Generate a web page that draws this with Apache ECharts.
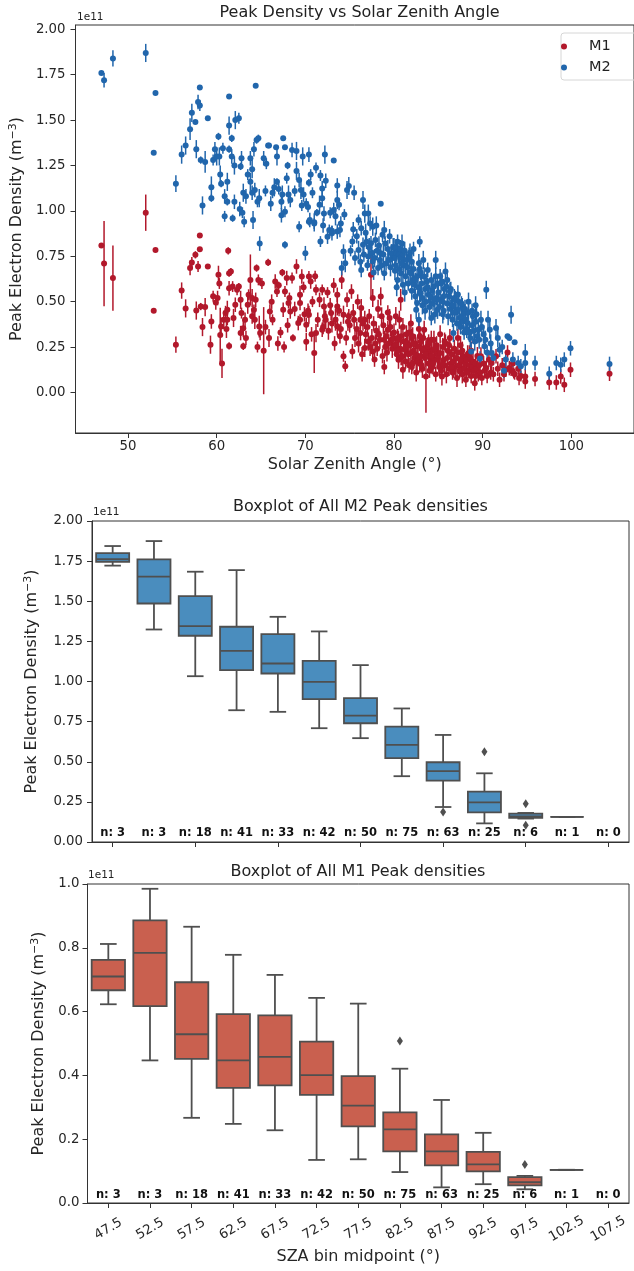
<!DOCTYPE html>
<html>
<head>
<meta charset="utf-8">
<script src="https://cdn.jsdelivr.net/npm/echarts@6/dist/echarts.min.js"></script>
<style>
  html, body { margin: 0; padding: 0; background: #fff; }
  #chart { width: 634px; height: 1271px; }
</style>
</head>
<body>
<div id="chart"></div>
<script>
// [SZA (deg), peak density (1e11 m^-3), error (1e11 m^-3)]
const m2Points = [
  [47.0,1.76,0.01],[47.3,1.72,0.04],[48.3,1.84,0.045],
  [52.0,1.87,0.05],[53.1,1.65,0.01],[52.9,1.32,0.01],
  [55.4,1.15,0.046],[56.05,1.31,0.05],[56.5,1.36,0.05],[57.0,1.45,0.06],[57.2,1.54,0.05],[57.6,1.49,0.01],
  [57.9,1.60,0.04],[58.1,1.58,0.03],[58.1,1.68,0.01],[57.7,1.34,0.05],[58.2,1.28,0.02],[58.7,1.27,0.06],
  [58.4,1.03,0.05],[59.0,1.51,0.01],[59.4,1.13,0.06],[59.4,1.07,0.02],[59.6,1.28,0.03],[59.8,1.34,0.04],
  [60.0,1.30,0.05],[60.2,1.41,0.02],[60.3,1.30,0.05],[60.4,1.20,0.05],[60.5,1.15,0.02],[60.7,1.345,0.03],
  [60.9,1.08,0.04],[60.9,0.97,0.03],[61.2,1.16,0.05],[61.2,1.05,0.02],[61.4,1.63,0.01],[61.4,1.47,0.05],
  [61.4,1.34,0.02],[61.7,1.40,0.02],[61.7,1.30,0.04],[61.8,0.96,0.02],[62.0,1.25,0.05],[62.0,1.05,0.04],
  [62.1,1.50,0.05],[62.5,1.51,0.03],[62.6,1.01,0.04],[62.7,1.245,0.02],[62.8,1.29,0.04],[62.9,0.99,0.03],
  [63.0,1.10,0.05],[63.1,0.94,0.03],[63.3,1.08,0.04],[63.5,1.20,0.03],[63.8,1.29,0.04],[63.8,1.16,0.05],
  [64.0,1.23,0.05],[64.0,1.10,0.04],[64.1,0.95,0.05],[64.3,1.115,0.04],[64.4,1.69,0.01],[64.5,1.39,0.02],
  [64.6,1.05,0.03],[64.7,1.40,0.02],[64.8,1.07,0.05],[64.85,0.82,0.04],[64.2,1.34,0.04],
  [65.3,1.29,0.04],[65.5,1.11,0.03],[65.8,1.36,0.01],[65.9,1.36,0.01],[66.1,1.04,0.04],[66.7,1.35,0.01],
  [66.8,1.30,0.05],[66.8,1.16,0.02],[67.3,1.05,0.04],[67.3,0.976,0.04],[67.4,1.09,0.05],[67.5,1.40,0.01],
  [67.7,1.35,0.01],[67.7,0.995,0.03],[67.7,0.813,0.02],[68.0,1.25,0.02],[68.1,1.09,0.05],[68.5,1.335,0.04],
  [69.0,1.33,0.05],[69.3,1.17,0.04],[69.3,0.913,0.03],[69.5,1.115,0.05],[69.7,1.30,0.05],[69.8,1.09,0.04],
  [66.3,1.10,0.03],[65.6,1.26,0.03],[66.5,1.13,0.05],[67.0,1.12,0.03],[68.3,1.06,0.04],[68.8,1.11,0.03],
  [69.0,1.22,0.05],[67.9,1.18,0.03],[69.6,1.03,0.03],
  [70.0,0.767,0.04],[70.1,1.04,0.03],[70.3,1.022,0.03],[70.4,1.31,0.04],[70.4,1.155,0.02],[70.4,0.94,0.02],
  [70.5,0.95,0.04],[71.0,0.937,0.05],[71.0,0.93,0.03],[71.2,1.237,0.03],[71.6,1.034,0.05],[71.7,1.195,0.03],
  [71.7,0.831,0.03],[71.9,1.124,0.04],[71.9,1.07,0.05],[72.1,0.985,0.04],[72.2,1.31,0.05],[72.3,1.166,0.04],
  [72.5,0.858,0.04],[72.7,0.895,0.03],[73.0,0.877,0.04],[73.0,0.89,0.03],[73.2,1.277,0.01],[73.2,1.005,0.04],
  [73.4,0.97,0.05],[73.6,1.14,0.04],[73.6,1.06,0.05],[73.6,0.886,0.04],[73.8,1.034,0.03],[73.9,0.895,0.04],
  [74.1,0.685,0.04],[74.3,0.776,0.04],[74.5,0.712,0.05],[74.7,1.115,0.05],[74.9,1.137,0.05],[70.8,1.10,0.03],
  [72.8,0.99,0.03],[71.3,0.99,0.02],[74.0,0.93,0.04],[72.0,0.92,0.04],[74.4,0.98,0.03],[70.6,1.20,0.03],
  [75.3,0.831,0.03],[75.4,0.899,0.04],[76.0,0.785,0.05],[76.3,0.904,0.04],[76.3,0.675,0.04],[76.5,1.06,0.05],
  [76.5,0.813,0.04],[76.7,0.985,0.05],[77.1,0.985,0.05],[77.1,0.749,0.05],[77.4,0.822,0.04],[77.6,0.913,0.05],
  [77.6,0.721,0.04],[78.2,0.685,0.04],[78.5,1.04,0.01],[78.5,0.767,0.05],[78.7,0.868,0.04],[78.9,0.895,0.05],
  [78.9,0.657,0.04],[79.4,0.73,0.05],[79.7,0.767,0.05],[75.1,0.78,0.03],[75.6,0.74,0.04],[75.8,0.86,0.04],
  [76.0,0.95,0.03],[76.2,0.72,0.04],[76.6,0.76,0.04],[76.8,0.88,0.05],[77.0,0.70,0.03],[77.2,0.80,0.05],
  [77.3,0.93,0.04],[77.5,0.77,0.04],[77.8,0.74,0.05],[77.9,0.84,0.04],[78.0,0.92,0.05],[78.1,0.78,0.04],
  [78.3,0.81,0.05],[78.4,0.73,0.04],[78.6,0.70,0.04],[78.8,0.76,0.05],[79.0,0.82,0.04],[79.1,0.71,0.04],
  [79.3,0.79,0.05],[79.5,0.86,0.04],[79.6,0.69,0.05],[79.8,0.74,0.04],[79.9,0.80,0.05],[75.5,1.10,0.04],
  [77.7,0.66,0.04],[76.9,0.83,0.04],
  [80.0,0.80,0.05],[80.1,0.74,0.05],[80.2,0.794,0.05],[80.2,0.70,0.04],[80.3,0.77,0.05],[80.4,0.62,0.05],
  [80.4,0.83,0.04],[80.5,0.76,0.05],[80.6,0.758,0.05],[80.6,0.68,0.04],[80.7,0.79,0.05],[80.8,0.657,0.05],
  [80.8,0.74,0.04],[80.9,0.82,0.05],[81.0,0.593,0.05],[81.0,0.76,0.05],[81.1,0.70,0.04],[81.2,0.78,0.05],
  [81.3,0.64,0.05],[81.4,0.73,0.04],[81.5,0.69,0.05],[81.6,0.60,0.04],[81.7,0.749,0.05],[81.8,0.66,0.05],
  [81.9,0.657,0.04],[82.0,0.56,0.05],[82.0,0.72,0.05],[82.1,0.62,0.04],[82.2,0.68,0.05],[82.3,0.593,0.05],
  [82.4,0.53,0.04],[82.5,0.455,0.05],[82.6,0.492,0.05],[82.6,0.64,0.04],[82.7,0.58,0.05],[82.8,0.712,0.05],
  [82.8,0.40,0.04],[82.9,0.55,0.05],[83.0,0.547,0.05],[83.0,0.66,0.04],[83.1,0.60,0.05],[83.2,0.52,0.04],
  [83.3,0.73,0.05],[83.4,0.639,0.05],[83.5,0.57,0.04],[83.6,0.50,0.05],[83.7,0.61,0.05],[83.8,0.675,0.04],
  [83.9,0.54,0.05],[84.0,0.47,0.05],[84.1,0.529,0.05],[84.2,0.62,0.04],[84.3,0.56,0.05],[84.4,0.49,0.04],
  [84.5,0.584,0.05],[84.6,0.43,0.05],[84.7,0.73,0.05],[84.8,0.52,0.04],[84.9,0.455,0.05],[84.9,0.60,0.05],
  [80.3,0.58,0.05],[82.9,0.83,0.03],[82.2,0.79,0.04],[83.5,0.45,0.05],[84.2,0.41,0.04],[81.2,0.55,0.05],
  [80.9,0.71,0.04],[82.9,0.68,0.05],[83.8,0.58,0.05],[84.5,0.51,0.04],[81.8,0.77,0.05],[80.1,0.67,0.05],
  [83.2,0.48,0.05],[82.4,0.62,0.04],[84.7,0.64,0.05],
  [85.0,0.55,0.05],[85.1,0.47,0.05],[85.2,0.51,0.05],[85.3,0.60,0.05],[85.4,0.611,0.05],[85.5,0.50,0.04],
  [85.6,0.45,0.05],[85.7,0.57,0.05],[85.8,0.666,0.05],[85.9,0.584,0.05],[86.0,0.49,0.04],[86.1,0.42,0.05],
  [86.2,0.53,0.05],[86.3,0.556,0.05],[86.4,0.46,0.05],[86.5,0.474,0.05],[86.6,0.40,0.04],[86.7,0.327,0.05],
  [86.8,0.52,0.05],[86.9,0.51,0.05],[87.0,0.44,0.05],[87.1,0.38,0.04],[87.2,0.455,0.05],[87.3,0.50,0.05],
  [87.4,0.41,0.05],[87.5,0.36,0.04],[87.6,0.419,0.05],[87.7,0.47,0.05],[87.8,0.39,0.05],[87.9,0.33,0.04],
  [88.0,0.437,0.05],[88.1,0.40,0.05],[88.2,0.35,0.05],[88.3,0.382,0.05],[88.4,0.44,0.04],[88.5,0.327,0.05],
  [88.6,0.30,0.05],[88.7,0.226,0.05],[88.8,0.37,0.05],[88.9,0.42,0.04],[89.0,0.34,0.05],[89.1,0.28,0.05],
  [89.2,0.39,0.05],[89.3,0.43,0.05],[89.4,0.31,0.04],[89.5,0.345,0.05],[89.6,0.29,0.05],[89.7,0.187,0.04],
  [89.8,0.40,0.05],[89.9,0.36,0.05],[85.2,0.64,0.04],[85.6,0.53,0.05],[86.0,0.62,0.05],[86.4,0.57,0.04],
  [86.8,0.44,0.05],[87.2,0.54,0.05],[87.6,0.49,0.04],[88.0,0.46,0.05],[88.4,0.50,0.05],[88.8,0.45,0.04],
  [89.2,0.48,0.05],[85.5,0.43,0.05],[86.6,0.48,0.05],
  [90.2,0.254,0.04],[90.4,0.565,0.05],[90.6,0.40,0.05],[90.8,0.345,0.05],[91.0,0.217,0.04],[91.5,0.355,0.05],
  [91.9,0.235,0.04],[92.6,0.181,0.04],[92.8,0.309,0.01],[93.2,0.428,0.05],[93.4,0.181,0.04],[93.6,0.276,0.01],
  [94.0,0.162,0.04],[94.3,0.144,0.04],[94.8,0.217,0.05],[94.8,0.162,0.04],[90.1,0.32,0.05],[90.3,0.29,0.05],
  [90.5,0.22,0.04],[90.9,0.27,0.05],[91.2,0.19,0.04],[91.7,0.30,0.05],[92.2,0.25,0.04],[92.4,0.12,0.04],
  [93.0,0.30,0.01],
  [95.9,0.162,0.04],[97.5,0.103,0.04],[98.3,0.162,0.04],[98.8,0.153,0.04],[99.2,0.181,0.04],[99.9,0.243,0.04],
  [104.3,0.157,0.04]
];

const m1Points = [
  [47.0,0.81,0.01],[47.3,0.71,0.235],[48.3,0.63,0.18],
  [52.0,0.99,0.1],[53.1,0.785,0.01],[52.9,0.45,0.01],
  [55.4,0.263,0.045],[56.05,0.561,0.045],[56.5,0.463,0.05],[57.0,0.685,0.04],[57.2,0.716,0.03],[57.6,0.758,0.02],
  [58.1,0.789,0.01],[58.1,0.864,0.01],[57.7,0.451,0.05],[57.9,0.694,0.03],[58.2,0.473,0.02],[58.7,0.47,0.05],
  [58.4,0.36,0.05],[59.0,0.694,0.01],[59.4,0.391,0.04],[59.3,0.263,0.05],[59.9,0.495,0.04],[59.6,0.53,0.03],
  [60.1,0.52,0.04],[60.2,0.648,0.05],[60.3,0.60,0.03],[60.4,0.317,0.15],[60.5,0.363,0.05],[60.6,0.16,0.08],
  [60.8,0.40,0.05],[61.0,0.437,0.04],[61.2,0.455,0.05],[61.2,0.40,0.03],[61.4,0.657,0.02],[61.4,0.574,0.04],
  [61.4,0.256,0.02],[61.6,0.666,0.02],[61.8,0.583,0.03],[61.9,0.41,0.05],[62.1,0.483,0.04],[62.3,0.565,0.03],
  [62.5,0.583,0.02],[62.7,0.51,0.05],[62.7,0.327,0.04],[62.8,0.437,0.03],[63.0,0.254,0.02],[63.0,0.354,0.05],
  [63.2,0.40,0.04],[63.5,0.483,0.05],[63.6,0.538,0.03],[63.8,0.62,0.14],[64.0,0.52,0.05],[64.0,0.419,0.04],
  [64.2,0.455,0.03],[64.3,0.40,0.05],[64.4,0.51,0.04],[64.5,0.685,0.02],[64.7,0.62,0.03],[64.8,0.363,0.06],
  [64.9,0.327,0.04],[61.3,0.78,0.02],[63.3,0.30,0.04],[61.1,0.35,0.05],[64.6,0.25,0.03],
  [65.3,0.23,0.24],[65.8,0.716,0.02],[66.0,0.446,0.04],[66.6,0.611,0.04],[66.8,0.556,0.03],[67.4,0.66,0.02],
  [67.5,0.455,0.04],[67.7,0.556,0.03],[67.9,0.63,0.04],[68.1,0.492,0.03],[68.3,0.446,0.04],[68.5,0.63,0.03],
  [69.0,0.694,0.04],[69.2,0.382,0.04],[69.4,0.538,0.05],[69.4,0.492,0.04],[69.4,0.40,0.03],[69.6,0.639,0.04],
  [65.5,0.36,0.04],[65.9,0.30,0.05],[66.3,0.40,0.03],[66.9,0.27,0.04],[67.2,0.33,0.03],[67.6,0.25,0.03],
  [68.0,0.37,0.04],[68.6,0.30,0.02],[68.8,0.46,0.04],[69.8,0.58,0.03],[67.0,0.59,0.02],[68.2,0.52,0.03],
  [66.2,0.50,0.04],[65.1,0.60,0.03],[69.9,0.43,0.04],
  [70.1,0.373,0.04],[70.1,0.279,0.05],[70.4,0.639,0.03],[70.4,0.428,0.05],[70.6,0.611,0.04],[71.0,0.217,0.11],
  [71.2,0.565,0.03],[71.2,0.327,0.05],[71.6,0.51,0.04],[71.9,0.565,0.03],[71.9,0.345,0.04],[72.1,0.474,0.05],
  [72.3,0.40,0.05],[72.9,0.437,0.04],[73.4,0.40,0.06],[73.6,0.538,0.04],[73.6,0.474,0.05],[73.6,0.364,0.05],
  [73.9,0.309,0.04],[74.3,0.199,0.03],[74.5,0.144,0.03],[74.3,0.428,0.05],[74.7,0.51,0.04],[70.8,0.50,0.03],
  [71.4,0.40,0.04],[72.0,0.36,0.04],[72.5,0.55,0.03],[72.6,0.34,0.05],[72.8,0.48,0.04],[73.0,0.38,0.05],
  [73.2,0.59,0.04],[73.8,0.45,0.03],[74.0,0.35,0.04],[74.1,0.62,0.05],[74.6,0.30,0.04],[74.8,0.39,0.05],
  [70.3,0.45,0.04],[71.1,0.64,0.03],[72.2,0.42,0.05],[73.3,0.27,0.04],[74.9,0.42,0.04],[70.7,0.32,0.04],
  [75.2,0.556,0.04],[75.3,0.226,0.04],[75.4,0.437,0.05],[76.2,0.40,0.05],[76.2,0.327,0.05],[76.3,0.465,0.05],
  [76.7,0.40,0.05],[76.7,0.245,0.05],[77.1,0.28,0.05],[77.4,0.648,0.12],[77.6,0.226,0.04],[77.8,0.181,0.04],
  [78.3,0.318,0.05],[78.5,0.529,0.05],[78.6,0.419,0.05],[78.9,0.29,0.05],[79.3,0.345,0.05],[79.5,0.41,0.05],
  [79.7,0.29,0.05],[75.0,0.37,0.04],[75.6,0.30,0.05],[75.8,0.35,0.04],[76.0,0.27,0.05],[76.5,0.38,0.04],
  [76.8,0.32,0.05],[77.0,0.36,0.05],[77.2,0.42,0.04],[77.3,0.25,0.05],[77.5,0.30,0.05],[77.7,0.38,0.04],
  [77.9,0.27,0.05],[78.0,0.34,0.05],[78.1,0.24,0.04],[78.2,0.46,0.05],[78.4,0.29,0.05],[78.7,0.20,0.04],
  [78.8,0.37,0.05],[79.0,0.25,0.05],[79.1,0.31,0.04],[79.2,0.22,0.05],[79.4,0.27,0.05],[79.6,0.36,0.05],
  [79.8,0.24,0.05],[79.9,0.30,0.04],[75.9,0.50,0.04],[76.4,0.21,0.04],[77.6,0.52,0.05],[78.9,0.14,0.04],
  [75.5,0.40,0.05],[79.3,0.44,0.04],
  [80.0,0.33,0.05],[80.1,0.26,0.05],[80.2,0.263,0.05],[80.3,0.21,0.04],[80.4,0.30,0.05],[80.5,0.18,0.05],
  [80.6,0.40,0.05],[80.7,0.24,0.04],[80.75,0.51,0.06],[80.8,0.309,0.05],[80.9,0.20,0.05],[81.0,0.125,0.05],
  [81.1,0.28,0.05],[81.2,0.235,0.05],[81.3,0.17,0.04],[81.4,0.32,0.05],[81.5,0.272,0.05],[81.6,0.21,0.05],
  [81.7,0.15,0.04],[81.8,0.26,0.05],[81.9,0.217,0.05],[82.0,0.30,0.05],[82.0,0.14,0.04],[82.1,0.309,0.05],
  [82.2,0.23,0.05],[82.3,0.19,0.04],[82.4,0.27,0.05],[82.5,0.11,0.05],[82.6,0.254,0.05],[82.7,0.20,0.05],
  [82.8,0.35,0.05],[82.9,0.16,0.05],[83.0,0.199,0.05],[83.0,0.28,0.05],[83.1,0.24,0.04],[83.2,0.13,0.05],
  [83.3,0.30,0.05],[83.4,0.345,0.05],[83.5,0.19,0.05],[83.6,0.088,0.2],[83.7,0.25,0.05],[83.8,0.254,0.05],
  [83.9,0.16,0.04],[84.0,0.22,0.05],[84.1,0.199,0.05],[84.2,0.29,0.05],[84.3,0.14,0.04],[84.4,0.23,0.05],
  [84.5,0.29,0.05],[84.6,0.18,0.05],[84.7,0.10,0.04],[84.8,0.26,0.05],[84.9,0.181,0.05],[84.9,0.21,0.05],
  [80.2,0.42,0.05],[81.0,0.36,0.05],[81.9,0.38,0.05],[82.6,0.17,0.05],[83.3,0.23,0.05],[84.0,0.12,0.04],
  [80.5,0.29,0.05],[81.3,0.25,0.05],[82.1,0.16,0.04],[82.9,0.31,0.05],[83.6,0.21,0.05],[84.4,0.16,0.05],
  [80.8,0.19,0.04],[81.7,0.33,0.05],[82.4,0.21,0.05],[83.1,0.15,0.04],[83.9,0.27,0.05],[84.6,0.24,0.05],
  [80.4,0.23,0.05],[82.2,0.27,0.05],[84.2,0.20,0.05],
  [85.0,0.20,0.05],[85.1,0.14,0.05],[85.2,0.217,0.05],[85.3,0.12,0.04],[85.4,0.088,0.05],[85.5,0.25,0.05],
  [85.6,0.18,0.05],[85.7,0.15,0.04],[85.8,0.27,0.05],[85.9,0.10,0.05],[86.0,0.19,0.05],[86.1,0.23,0.05],
  [86.2,0.13,0.04],[86.3,0.30,0.05],[86.4,0.16,0.05],[86.5,0.21,0.05],[86.6,0.11,0.04],[86.7,0.17,0.05],
  [86.8,0.24,0.05],[86.9,0.14,0.05],[87.0,0.19,0.04],[87.1,0.08,0.05],[87.2,0.22,0.05],[87.3,0.15,0.05],
  [87.4,0.12,0.04],[87.5,0.26,0.05],[87.6,0.17,0.05],[87.7,0.10,0.05],[87.8,0.20,0.04],[87.9,0.13,0.05],
  [88.0,0.16,0.05],[88.1,0.07,0.04],[88.2,0.18,0.05],[88.3,0.21,0.05],[88.4,0.12,0.04],[88.5,0.15,0.05],
  [88.6,0.19,0.05],[88.7,0.09,0.04],[88.8,0.14,0.05],[88.9,0.17,0.05],[89.0,0.12,0.04],[89.1,0.05,0.04],
  [89.2,0.16,0.05],[89.3,0.13,0.04],[89.4,0.20,0.05],[89.5,0.10,0.04],[89.6,0.15,0.05],[89.7,0.11,0.04],
  [89.8,0.199,0.05],[89.9,0.08,0.04],[85.2,0.32,0.05],[85.7,0.28,0.05],[86.2,0.26,0.05],[86.7,0.12,0.04],
  [87.2,0.30,0.05],[87.7,0.23,0.05],[88.2,0.11,0.04],[88.7,0.23,0.05],[89.2,0.09,0.04],[85.5,0.16,0.05],
  [86.5,0.14,0.04],[87.5,0.18,0.05],[88.5,0.21,0.05],
  [90.1,0.16,0.04],[90.2,0.12,0.04],[90.4,0.134,0.04],[90.5,0.09,0.04],[90.7,0.18,0.04],[90.9,0.11,0.04],
  [91.0,0.162,0.04],[91.2,0.10,0.04],[91.5,0.199,0.04],[91.7,0.13,0.04],[91.9,0.07,0.04],[92.2,0.15,0.04],
  [92.4,0.10,0.04],[92.6,0.125,0.04],[92.8,0.22,0.04],[93.0,0.134,0.04],[93.2,0.12,0.03],[93.4,0.16,0.03],
  [93.5,0.107,0.03],[93.6,0.10,0.03],[94.0,0.13,0.03],[94.1,0.079,0.04],[94.3,0.09,0.03],[94.8,0.088,0.04],
  [94.8,0.06,0.04],
  [95.9,0.074,0.04],[97.5,0.055,0.04],[98.3,0.055,0.04],[98.8,0.088,0.04],[99.2,0.042,0.04],[99.9,0.125,0.04],
  [104.3,0.103,0.04]
];

const sceneXTicks = [50, 60, 70, 80, 90, 100];
const sceneYTicks = [0, 0.25, 0.5, 0.75, 1.0, 1.25, 1.5, 1.75, 2.0];

const binLabels = ['47.5','52.5','57.5','62.5','67.5','72.5','77.5','82.5','87.5','92.5','97.5','102.5','107.5'];
const binCounts = [3, 3, 18, 41, 33, 42, 50, 75, 63, 25, 6, 1, 0];

// [low whisker, q1, median, q3, high whisker] per SZA bin (null = empty bin)
const m2Box = [
  [1.722,1.746,1.762,1.800,1.844],
  [1.324,1.486,1.653,1.761,1.875],
  [1.033,1.285,1.345,1.532,1.684],
  [0.821,1.071,1.191,1.341,1.694],
  [0.811,1.050,1.112,1.295,1.403],
  [0.709,0.890,0.998,1.129,1.312],
  [0.647,0.740,0.788,0.896,1.102],
  [0.410,0.522,0.605,0.719,0.832],
  [0.218,0.383,0.441,0.497,0.667],
  [0.116,0.185,0.247,0.314,0.428],
  [0.146,0.150,0.160,0.177,0.181],
  [0.156,0.156,0.156,0.156,0.156],
  null
];
const m1Box = [
  [0.623,0.667,0.710,0.762,0.812],
  [0.447,0.617,0.784,0.886,0.985],
  [0.267,0.452,0.529,0.692,0.866],
  [0.248,0.361,0.447,0.592,0.778],
  [0.228,0.369,0.458,0.588,0.715],
  [0.135,0.339,0.401,0.506,0.643],
  [0.137,0.240,0.305,0.398,0.625],
  [0.097,0.162,0.231,0.284,0.421],
  [0.049,0.118,0.162,0.215,0.323],
  [0.059,0.099,0.121,0.160,0.220],
  [0.043,0.055,0.065,0.081,0.085],
  [0.104,0.104,0.104,0.104,0.104],
  null
];
// [bin index, value]
const m2Outliers = [[8, 0.187], [9, 0.563], [10, 0.239], [10, 0.104]];
const m1Outliers = [[7, 0.508], [10, 0.121]];

const M1_COLOR = '#b2182b';
const M2_COLOR = '#2166ac';
const M1_BOX = '#c9604f';
const M2_BOX = '#4a8dbe';
const LINE = '#4f4f4f';
const AXIS = '#333';
const FONT = '"DejaVu Sans", sans-serif';

const chart = echarts.init(document.getElementById('chart'), null, { renderer: 'canvas' });

function errorBars(color) {
  return function (params, api) {
    const x = api.value(0), y = api.value(1), e = api.value(2);
    const a = api.coord([x, y - e]);
    const b = api.coord([x, y + e]);
    return {
      type: 'line',
      shape: { x1: a[0], y1: a[1], x2: b[0], y2: b[1] },
      style: { stroke: color, lineWidth: 1.5 }
    };
  };
}

function boxes(fill) {
  return function (params, api) {
    const i = api.value(0);
    const yOf = (k) => api.coord([i, api.value(k)])[1];
    const cx = api.coord([i, 0])[0];
    const half = api.size([1, 0])[0] * 0.4;
    const cap = half / 2;
    const lo = yOf(1), q1 = yOf(2), med = yOf(3), q3 = yOf(4), hi = yOf(5);
    const st = { stroke: LINE, lineWidth: 1.8 };
    return {
      type: 'group',
      children: [
        { type: 'line', shape: { x1: cx, y1: q1, x2: cx, y2: lo }, style: st },
        { type: 'line', shape: { x1: cx, y1: q3, x2: cx, y2: hi }, style: st },
        { type: 'line', shape: { x1: cx - cap, y1: lo, x2: cx + cap, y2: lo }, style: st },
        { type: 'line', shape: { x1: cx - cap, y1: hi, x2: cx + cap, y2: hi }, style: st },
        { type: 'rect', shape: { x: cx - half, y: q3, width: half * 2, height: q1 - q3 },
          style: { fill: fill, stroke: LINE, lineWidth: 1.8 } },
        { type: 'line', shape: { x1: cx - half, y1: med, x2: cx + half, y2: med }, style: st }
      ]
    };
  };
}

function countLabels(yPos) {
  return function (params, api) {
    const p = api.coord([api.value(0), yPos]);
    return {
      type: 'text',
      style: {
        text: 'n: ' + api.value(1), x: p[0], y: p[1],
        align: 'center', verticalAlign: 'middle',
        font: 'bold 11.5px ' + FONT, fill: '#111'
      }
    };
  };
}

const tickLabel = { color: '#262626', fontSize: 13.3, fontFamily: FONT };
const axisName = { color: '#262626', fontSize: 16, fontFamily: FONT,
  rich: { sup: { fontSize: 11, fontFamily: FONT, color: '#262626', verticalAlign: 'top', lineHeight: 18 } } };
const tick = { show: true, length: 5, lineStyle: { color: AXIS, width: 1 } };
const yName = 'Peak Electron Density (m{sup|\u22123})';
const spine = () => ({ show: true, onZero: false, lineStyle: { color: AXIS, width: 1 } });

const boxData = (stats) => stats.map((s, i) => (s ? [i].concat(s) : null)).filter(Boolean);

chart.setOption({
  animation: false,
  backgroundColor: '#fff',
  textStyle: { fontFamily: FONT },
  title: [
    { text: 'Peak Density vs Solar Zenith Angle', left: 359.6, top: 5, textAlign: 'center', padding: 0,
      textStyle: { fontSize: 16, fontWeight: 'normal', color: '#222', fontFamily: FONT } },
    { text: 'Boxplot of All M2 Peak densities', left: 360.5, top: 499, textAlign: 'center', padding: 0,
      textStyle: { fontSize: 16, fontWeight: 'normal', color: '#222', fontFamily: FONT } },
    { text: 'Boxplot of All M1 Peak densities', left: 358, top: 864, textAlign: 'center', padding: 0,
      textStyle: { fontSize: 16, fontWeight: 'normal', color: '#222', fontFamily: FONT } }
  ],
  legend: {
    data: ['M1', 'M2'], orient: 'vertical', left: 561, top: 33,
    icon: 'circle', itemWidth: 40, itemHeight: 6, itemGap: 6,
    padding: [6, 30, 5, 0], borderColor: '#d6d6d6', borderWidth: 1, borderRadius: 3,
    textStyle: { fontSize: 14.5, fontFamily: FONT, color: '#222' }
  },
  graphic: [
    { type: 'text', left: 77, top: 12, style: { text: '1e11', font: '10.5px ' + FONT, fill: '#222' } },
    { type: 'text', left: 93, top: 507, style: { text: '1e11', font: '10.5px ' + FONT, fill: '#222' } },
    { type: 'text', left: 88, top: 870, style: { text: '1e11', font: '10.5px ' + FONT, fill: '#222' } }
  ],
  grid: [
    { left: 75, top: 25, width: 569, height: 408, show: true, borderColor: AXIS, borderWidth: 1 },
    { left: 92, top: 521, width: 537, height: 321, show: true, borderColor: AXIS, borderWidth: 1 },
    { left: 87.5, top: 884, width: 541.5, height: 319, show: true, borderColor: AXIS, borderWidth: 1 }
  ],
  xAxis: [
    { type: 'value', gridIndex: 0, min: 44.08, max: 107.06,
      axisLine: spine(), splitLine: { show: false },
      axisTick: Object.assign({ customValues: sceneXTicks }, tick),
      axisLabel: Object.assign({ customValues: sceneXTicks, margin: 7 }, tickLabel),
      name: 'Solar Zenith Angle (\u00b0)', nameLocation: 'middle', nameGap: 24, nameTextStyle: axisName },
    { type: 'category', gridIndex: 1, data: binLabels, boundaryGap: true,
      axisLine: spine(), splitLine: { show: false },
      axisTick: Object.assign({ alignWithLabel: true }, tick), axisLabel: { show: false } },
    { type: 'category', gridIndex: 2, data: binLabels, boundaryGap: true,
      axisLine: spine(), splitLine: { show: false },
      axisTick: Object.assign({ alignWithLabel: true }, tick),
      axisLabel: Object.assign({ rotate: 30, align: 'center', verticalAlign: 'middle', margin: 26, interval: 0 }, tickLabel),
      name: 'SZA bin midpoint (\u00b0)', nameLocation: 'middle', nameGap: 46, nameTextStyle: axisName }
  ],
  yAxis: [
    { type: 'value', gridIndex: 0, min: -0.2235, max: 2.024,
      axisLine: spine(), splitLine: { show: false },
      axisTick: Object.assign({ customValues: sceneYTicks }, tick),
      axisLabel: Object.assign({ customValues: sceneYTicks, margin: 10, formatter: (v) => v.toFixed(2) }, tickLabel),
      name: yName, nameLocation: 'middle', nameGap: 40, nameTextStyle: axisName },
    { type: 'value', gridIndex: 1, min: 0, max: 2, interval: 0.25,
      axisLine: spine(), splitLine: { show: false }, axisTick: tick,
      axisLabel: Object.assign({ margin: 9, formatter: (v) => v.toFixed(2) }, tickLabel),
      name: yName, nameLocation: 'middle', nameGap: 51, nameTextStyle: axisName },
    { type: 'value', gridIndex: 2, min: 0, max: 1, interval: 0.2,
      axisLine: spine(), splitLine: { show: false }, axisTick: tick,
      axisLabel: Object.assign({ margin: 8, formatter: (v) => v.toFixed(1) }, tickLabel),
      name: yName, nameLocation: 'middle', nameGap: 40, nameTextStyle: axisName }
  ],
  series: [
    { type: 'custom', name: 'M1 err', xAxisIndex: 0, yAxisIndex: 0, data: m1Points,
      renderItem: errorBars(M1_COLOR), silent: true },
    { type: 'scatter', name: 'M1', xAxisIndex: 0, yAxisIndex: 0,
      data: m1Points.map((p) => [p[0], p[1]]), symbolSize: 6, itemStyle: { color: M1_COLOR, opacity: 1 } },
    { type: 'custom', name: 'M2 err', xAxisIndex: 0, yAxisIndex: 0, data: m2Points,
      renderItem: errorBars(M2_COLOR), silent: true },
    { type: 'scatter', name: 'M2', xAxisIndex: 0, yAxisIndex: 0,
      data: m2Points.map((p) => [p[0], p[1]]), symbolSize: 6, itemStyle: { color: M2_COLOR, opacity: 1 } },

    { type: 'custom', name: 'M2 box', xAxisIndex: 1, yAxisIndex: 1, data: boxData(m2Box),
      renderItem: boxes(M2_BOX), silent: true },
    { type: 'scatter', name: 'M2 outliers', xAxisIndex: 1, yAxisIndex: 1, data: m2Outliers,
      symbol: 'diamond', symbolSize: [6, 9], itemStyle: { color: LINE, opacity: 1 } },
    { type: 'custom', name: 'M2 n', xAxisIndex: 1, yAxisIndex: 1,
      data: binCounts.map((n, i) => [i, n]), renderItem: countLabels(0.054), silent: true },

    { type: 'custom', name: 'M1 box', xAxisIndex: 2, yAxisIndex: 2, data: boxData(m1Box),
      renderItem: boxes(M1_BOX), silent: true },
    { type: 'scatter', name: 'M1 outliers', xAxisIndex: 2, yAxisIndex: 2, data: m1Outliers,
      symbol: 'diamond', symbolSize: [6, 9], itemStyle: { color: LINE, opacity: 1 } },
    { type: 'custom', name: 'M1 n', xAxisIndex: 2, yAxisIndex: 2,
      data: binCounts.map((n, i) => [i, n]), renderItem: countLabels(0.024), silent: true }
  ]
});
</script>
</body>
</html>
